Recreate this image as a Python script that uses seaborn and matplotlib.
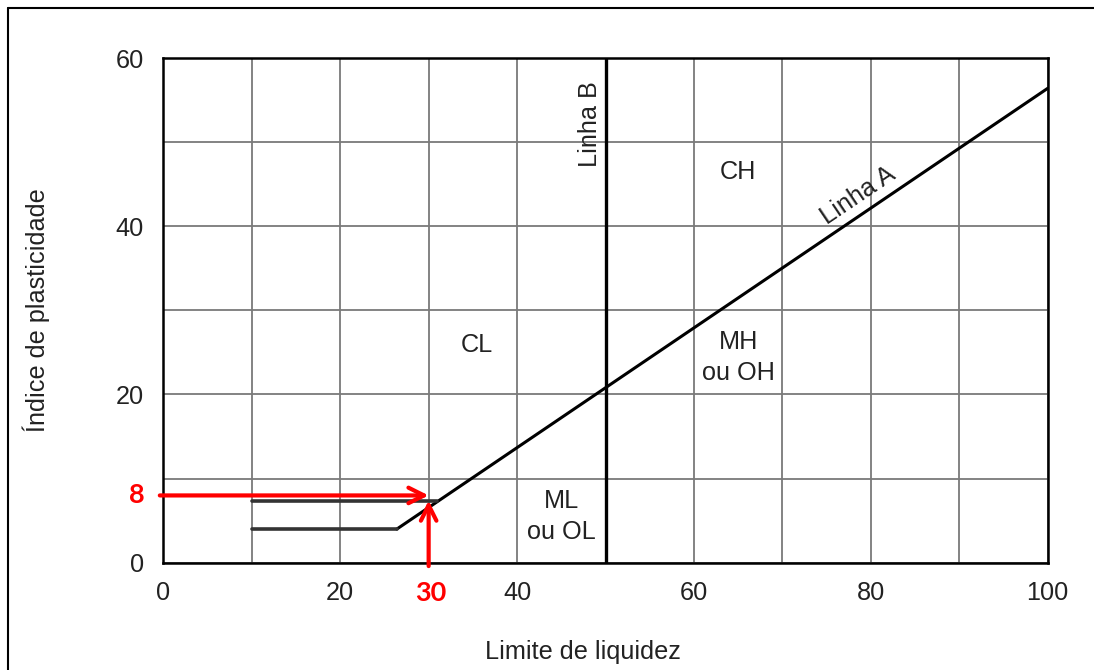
import matplotlib
matplotlib.use("Agg")
import matplotlib.pyplot as plt
from matplotlib.lines import Line2D
import seaborn as sns
import pandas as pd

# ---- data ----
x_ticks = [0, 20, 40, 60, 80, 100]
y_ticks = [0, 20, 40, 60]
grid_x = [10, 20, 30, 40, 50, 60, 70, 80, 90]
grid_y = [10, 20, 30, 40, 50]

lineA_ll = [26.4, 100.0]
lineA_pi = [4.0, 56.4]
lineB_ll = [50.0, 50.0]
lineB_pi = [0.0, 60.0]
upper_ll = [10.0, 31.0]
upper_pi = [7.3, 7.3]
lower_ll = [10.0, 26.4]
lower_pi = [4.0, 4.0]

zone_names = ["CL", "ML\nou OL", "MH\nou OH", "CH"]
zone_ll = [35.4, 45.0, 65.0, 65.0]
zone_pi = [25.9, 5.5, 24.4, 46.5]

point_ll = 30
point_pi = 8

sns.set_theme(style="white")
plt.rcParams["font.family"] = ["Liberation Sans", "DejaVu Sans"]

fig = plt.figure(figsize=(10.94, 6.70), dpi=100)
ax = fig.add_axes([0.1493, 0.1601, 0.8084, 0.7533])

txt = "#222222"
gridc = "#7a7a7a"
fs = 18.2

ax.set_xlim(0, 100)
ax.set_ylim(0, 60)
ax.set_xticks(x_ticks)
ax.set_yticks(y_ticks)
ax.set_xticks(grid_x, minor=True)
ax.set_yticks(grid_y, minor=True)
ax.grid(True, which="both", color=gridc, lw=1.3)
ax.tick_params(axis="both", which="both", length=0, labelsize=fs,
               labelcolor=txt)
ax.tick_params(axis="x", pad=13)
ax.tick_params(axis="y", pad=14)
for s in ax.spines.values():
    s.set_color("black")
    s.set_linewidth(1.8)
    s.set_zorder(5)

dfA = pd.DataFrame({"LL": lineA_ll, "PI": lineA_pi})
dfB = pd.DataFrame({"LL": lineB_ll, "PI": lineB_pi})
dfU = pd.DataFrame({"LL": upper_ll, "PI": upper_pi})
dfL = pd.DataFrame({"LL": lower_ll, "PI": lower_pi})

sns.lineplot(data=dfA, x="LL", y="PI", ax=ax, color="black", lw=2.2,
             sort=False, zorder=4)
sns.lineplot(data=dfB, x="LL", y="PI", ax=ax, color="black", lw=2.4,
             sort=False, orient="y", zorder=4)
sns.lineplot(data=dfU, x="LL", y="PI", ax=ax, color="#333333", lw=2.6,
             sort=False, zorder=4)
sns.lineplot(data=dfL, x="LL", y="PI", ax=ax, color="#333333", lw=2.6,
             sort=False, zorder=4)

for name, xx, yy in zip(zone_names, zone_ll, zone_pi):
    ax.text(xx, yy, name, ha="center", va="center", fontsize=fs,
            color=txt, linespacing=1.4)

ax.text(48.2, 52.2, "Linha B", rotation=90, ha="center", va="center",
        fontsize=fs, color=txt)
ax.text(78.6, 43.6, "Linha A", rotation=34, ha="center", va="center",
        fontsize=fs, color=txt, rotation_mode="anchor")

ax.set_xlabel("Limite de liquidez", fontsize=fs, color=txt)
ax.set_ylabel("Índice de plasticidade", fontsize=fs, color=txt)
ax.xaxis.set_label_coords(0.475, -0.153)
ax.yaxis.set_label_coords(-0.128, 0.5)

# red annotation
red = "#ff0000"
ap = dict(arrowstyle="->", color=red, lw=3, mutation_scale=28,
          shrinkA=0, shrinkB=0)
ax.annotate("", xy=(point_ll, point_pi), xytext=(-0.4, point_pi),
            arrowprops=ap, annotation_clip=False, zorder=6)
ax.annotate("", xy=(point_ll, point_pi - 0.6), xytext=(point_ll, -0.4),
            arrowprops=ap, annotation_clip=False, zorder=6)
ax.text(-3.0, point_pi, str(point_pi), ha="center", va="center",
        fontsize=19.5, fontweight="bold", color=red,
        family=["Lato", "DejaVu Sans"])
ax.text(30.2, -3.6, str(point_ll), ha="center", va="center",
        fontsize=19.5, fontweight="bold", color=red,
        family=["Lato", "DejaVu Sans"])

# outer frame (left and top edges)
fig.add_artist(Line2D([8 / 1094, 8 / 1094], [1 - 8 / 670, 0], color="black",
                      lw=1.5, transform=fig.transFigure))
fig.add_artist(Line2D([8 / 1094, 1], [1 - 8 / 670, 1 - 8 / 670],
                      color="black", lw=1.5, transform=fig.transFigure))

fig.savefig("out.png", dpi=100)
